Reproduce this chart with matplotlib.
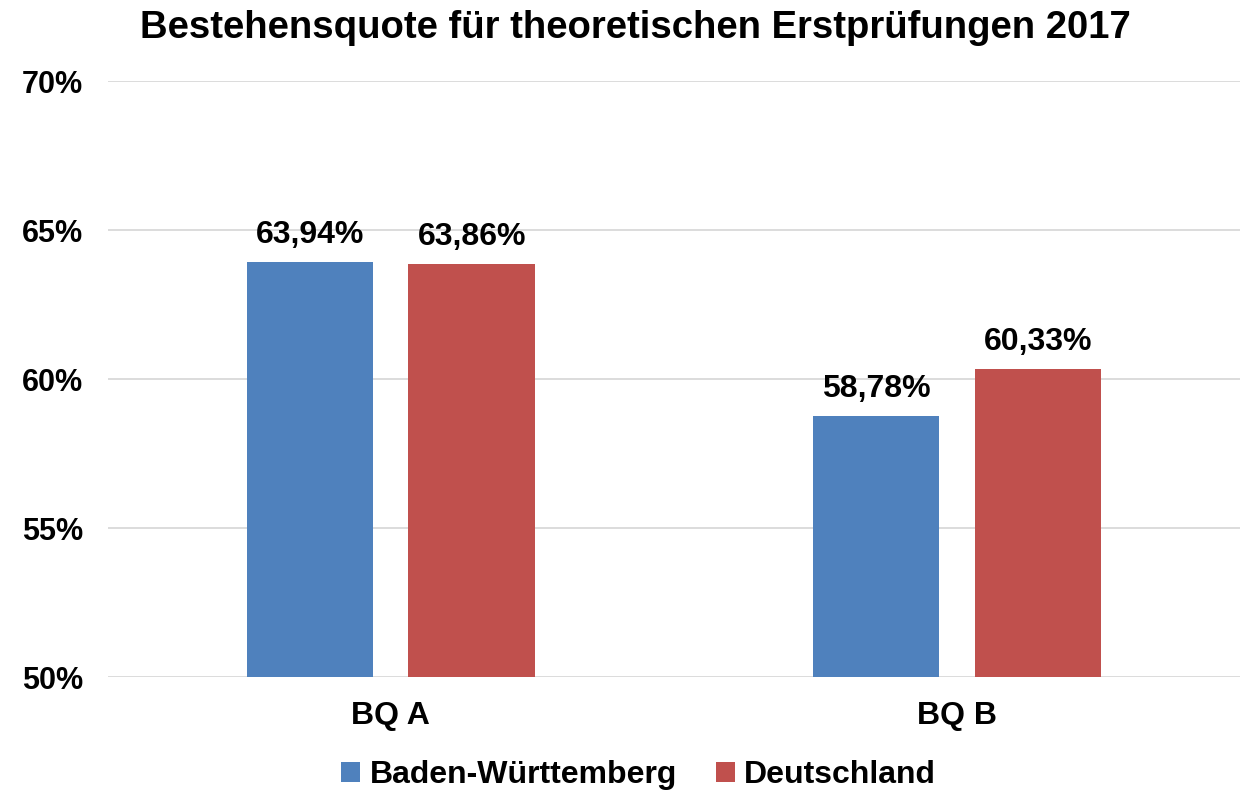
import numpy as np
import matplotlib.pyplot as plt

plt.rcParams['font.family'] = ['Liberation Sans', 'DejaVu Sans']
plt.rcParams['font.weight'] = 'bold'

categories = ['BQ A', 'BQ B']
series_names = ['Baden-Württemberg', 'Deutschland']
bw_values = [63.94, 58.78]
de_values = [63.86, 60.33]
colors = ['#4F81BD', '#C0504D']

fig = plt.figure(figsize=(12.4, 7.9), dpi=100)
ax = fig.add_axes([0.087, 0.143, 0.913, 0.754])

x = np.arange(len(categories))
width = 0.224
offset = 0.143

for vals, name, col, sign in zip([bw_values, de_values], series_names, colors, [-1, 1]):
    bars = ax.bar(x + sign * offset, vals, width, color=col, label=name, zorder=3)
    for b, v in zip(bars, vals):
        ax.text(b.get_x() + b.get_width() / 2, v + 0.4, f'{v:.2f}%'.replace('.', ','),
                ha='center', va='bottom', fontsize=23, fontweight='bold')

ax.set_ylim(50, 70)
ax.set_xlim(-0.5, 1.5)
ax.set_yticks(np.arange(50, 71, 5))
ax.set_yticklabels([f'{t}%' for t in range(50, 71, 5)], fontsize=22, fontweight='bold')
ax.set_xticks(x)
ax.set_xticklabels(categories, fontsize=23, fontweight='bold')
ax.tick_params(axis='both', length=0)
ax.tick_params(axis='x', pad=17)
ax.tick_params(axis='y', pad=18)
ax.grid(axis='y', color='#D9D9D9', linewidth=1.3, zorder=0)
for s in ax.spines.values():
    s.set_visible(False)

fig.text(0.512, 0.964, 'Bestehensquote für theoretischen Erstprüfungen 2017', fontsize=27.5,
         fontweight='bold', ha='center', va='center')

fig.legend(loc='lower center', bbox_to_anchor=(0.515, -0.037), ncol=2, frameon=False,
           fontsize=23, handlelength=0.6, handleheight=0.6, handletextpad=0.3,
           columnspacing=1.2)

fig.savefig('out.png', dpi=100)
